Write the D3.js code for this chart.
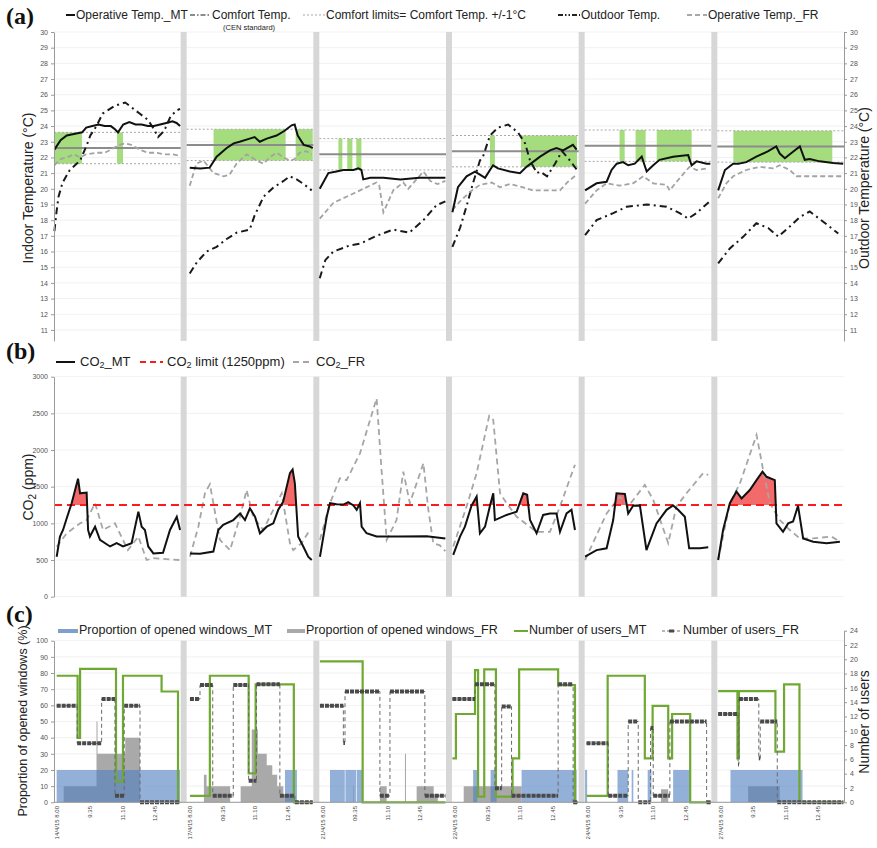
<!DOCTYPE html>
<html>
<head>
<meta charset="utf-8">
<script src="https://cdn.jsdelivr.net/npm/d3@7"></script>
<style>
  body { margin: 0; background: #fff; }
</style>
</head>
<body>
<div id="chart"></div>
<script>
// chart size
const width = 877;
const height = 848;

// ---- data (time = decimal hours of the day) ----
const days = ["14/4/15", "17/4/15", "21/4/15", "22/4/15", "24/4/15", "27/4/15"];
const timeTicks = [8.0, 9 + 35 / 60, 11 + 10 / 60, 12.75];
const timeTickLabels = [
    ["8.00", "9.35", "11.10", "12.45"],
    ["8.00", "09.35", "11.10", "12.45"],
    ["8.00", "09.35", "11.10", "12.45"],
    ["8.00", "09.35", "11.10", "12.45"],
    ["8.00", "9.35", "11.10", "12.45"],
    ["8.00", "9.35", "11.10", "12.45"]
];

// comfort temperature (CEN standard) per day, limits are +/-1
const comfortTemp = [22.6, 22.8, 22.2, 22.4, 22.75, 22.7];

// periods where operative temp. MT lies inside the comfort limits
const comfortPeriods = [
    [[7.85, 9.19], [10.9, 11.19]],
    [[9.14, 12.65], [13.14, 13.97]],
    [[8.76, 8.95], [9.19, 9.44], [9.63, 9.88]],
    [[9.68, 9.92], [11.19, 13.92]],
    [[9.53, 9.78], [10.31, 10.8], [11.34, 13.04]],
    [[8.61, 13.43]]
];

const tempMT = [
    [[7.85, 22.5], [8.15, 23.1], [8.45, 23.4], [8.8, 23.5], [9.2, 23.6], [9.4, 23.9], [9.7, 24.0], [10.0, 24.1], [10.3, 24.0], [10.6, 24.0], [10.8, 23.8], [10.95, 23.6], [11.2, 24.1], [11.5, 24.25], [11.8, 24.1], [12.1, 24.1], [12.4, 24.0], [12.7, 24.0], [13.0, 24.1], [13.3, 24.2], [13.6, 24.3], [13.8, 24.2], [13.97, 24.0]],
    [[7.98, 21.35], [8.5, 21.3], [8.95, 21.35], [9.29, 22.05], [9.78, 22.6], [10.12, 22.9], [10.41, 23.0], [10.9, 23.2], [11.14, 23.3], [11.39, 23.0], [11.73, 23.2], [12.21, 23.4], [12.6, 23.7], [12.94, 24.05], [13.09, 24.1], [13.24, 23.4], [13.53, 22.8], [13.82, 22.7], [13.97, 22.6]],
    [[7.85, 20.0], [8.27, 21.0], [8.66, 21.1], [9.0, 21.2], [9.49, 21.2], [9.73, 21.3], [9.88, 21.2], [9.97, 20.6], [10.31, 20.7], [10.95, 20.7], [11.78, 20.6], [12.7, 20.7], [13.97, 20.7]],
    [[7.85, 18.5], [8.12, 20.1], [8.54, 20.8], [8.95, 21.1], [9.19, 20.9], [9.44, 20.7], [9.68, 21.2], [9.83, 21.5], [10.07, 21.3], [10.65, 21.1], [11.14, 21.0], [11.46, 21.4], [12.12, 22.05], [12.6, 22.45], [12.92, 22.6], [13.24, 22.45], [13.72, 22.8], [13.9, 22.5]],
    [[7.85, 19.9], [8.41, 20.35], [8.9, 20.45], [9.14, 21.2], [9.39, 21.6], [9.7, 21.7], [9.95, 21.5], [10.27, 21.6], [10.61, 22.05], [10.85, 21.1], [11.17, 21.5], [11.48, 21.85], [12.14, 22.05], [12.87, 22.15], [13.04, 21.5], [13.28, 21.75], [13.77, 21.6], [13.95, 21.6]],
    [[7.87, 19.9], [8.2, 21.2], [8.6, 21.6], [8.85, 21.6], [9.24, 21.7], [9.73, 22.05], [10.31, 22.4], [10.7, 22.7], [10.87, 22.25], [11.12, 21.95], [11.36, 22.2], [11.85, 22.7], [12.09, 21.85], [12.33, 21.9], [12.82, 21.75], [13.47, 21.65], [13.96, 21.6]]
];

const tempFR = [
    [[7.85, 21.5], [8.15, 21.9], [8.45, 22.0], [8.8, 22.2], [9.1, 22.0], [9.4, 22.2], [9.9, 22.3], [10.3, 22.3], [10.6, 22.5], [11.0, 22.8], [11.3, 22.9], [11.6, 22.8], [12.0, 22.5], [12.4, 22.3], [12.8, 22.3], [13.2, 22.2], [13.6, 22.2], [13.97, 22.1]],
    [[7.98, 20.2], [8.3, 21.6], [8.65, 21.8], [9.14, 21.0], [9.63, 20.8], [9.92, 20.9], [10.26, 21.6], [10.75, 22.2], [11.24, 21.8], [11.58, 21.6], [11.87, 22.0], [12.21, 22.3], [12.55, 22.0], [12.85, 21.8], [13.1, 21.9], [13.33, 22.3], [13.67, 22.4], [13.92, 22.2]],
    [[7.85, 18.1], [8.51, 19.1], [9.49, 19.7], [10.61, 20.4], [10.75, 20.2], [10.95, 18.5], [11.43, 19.9], [11.92, 20.4], [12.16, 20.0], [12.9, 21.1], [13.24, 20.5], [13.58, 20.3], [13.97, 20.5]],
    [[7.85, 18.65], [8.22, 19.2], [8.7, 19.8], [9.19, 20.25], [9.76, 20.4], [10.17, 20.1], [10.65, 20.3], [11.14, 20.15], [11.78, 19.9], [13.09, 19.9], [13.48, 20.45], [13.9, 20.9]],
    [[7.85, 19.05], [8.41, 19.9], [8.9, 20.35], [9.53, 20.2], [10.19, 20.35], [10.68, 20.8], [11.17, 20.35], [11.82, 20.25], [11.97, 19.9], [12.31, 20.45], [12.8, 21.2], [12.94, 21.4], [13.28, 21.2], [13.84, 21.3]],
    [[7.87, 19.4], [8.27, 20.35], [8.6, 20.8], [9.24, 21.2], [9.9, 21.4], [10.56, 21.3], [10.87, 21.5], [11.36, 21.2], [11.68, 20.8], [12.5, 20.8], [13.97, 20.8]]
];

const tempOut = [
    [[7.85, 17.3], [7.95, 18.5], [8.05, 19.5], [8.25, 20.4], [8.6, 21.2], [9.1, 21.8], [9.4, 22.7], [9.6, 23.4], [9.9, 24.0], [10.2, 24.8], [10.8, 25.3], [11.3, 25.5], [11.7, 25.1], [12.0, 24.8], [12.4, 24.4], [12.7, 23.8], [12.9, 23.3], [13.2, 23.7], [13.5, 24.6], [13.8, 25.0], [13.97, 25.1]],
    [[7.98, 14.6], [8.32, 15.3], [8.8, 16.0], [9.29, 16.3], [9.78, 16.8], [10.26, 17.2], [10.9, 17.4], [11.14, 18.3], [11.58, 19.5], [12.07, 20.1], [12.55, 20.5], [12.85, 20.8], [13.19, 20.6], [13.53, 20.3], [13.92, 19.9]],
    [[7.85, 14.3], [8.12, 15.45], [8.51, 16.0], [9.34, 16.4], [9.83, 16.5], [10.61, 17.0], [11.43, 17.4], [12.21, 17.2], [12.9, 18.0], [13.53, 18.95], [13.97, 19.2]],
    [[7.85, 16.3], [8.22, 17.5], [8.54, 18.9], [8.85, 20.35], [9.19, 21.8], [9.34, 22.05], [9.68, 23.4], [10.07, 23.9], [10.56, 24.1], [11.04, 23.6], [11.39, 22.9], [11.63, 21.8], [11.97, 21.0], [12.12, 21.1], [12.46, 20.8], [12.85, 21.6], [13.19, 22.4], [13.58, 21.8], [13.92, 21.2]],
    [[7.85, 17.05], [8.41, 18.0], [9.22, 18.45], [9.87, 18.85], [10.85, 19.0], [11.82, 18.85], [12.46, 18.45], [12.87, 18.1], [13.28, 18.45], [13.92, 19.2]],
    [[7.87, 15.25], [8.44, 16.2], [9.1, 16.95], [9.73, 17.8], [10.31, 17.5], [10.8, 16.95], [11.36, 17.6], [11.85, 18.2], [12.33, 18.55], [12.99, 17.9], [13.72, 17.15]]
];

const co2Limit = 1250;

const co2MT = [
    [[7.96, 545], [8.12, 820], [8.27, 910], [8.45, 1070], [8.69, 1275], [9.0, 1610], [9.1, 1410], [9.42, 1420], [9.49, 910], [9.58, 820], [9.83, 955], [10.07, 775], [10.56, 685], [10.88, 730], [11.19, 685], [11.61, 730], [11.94, 1160], [12.1, 955], [12.26, 910], [12.42, 685], [12.67, 590], [13.14, 600], [13.48, 910], [13.81, 1090], [13.97, 910]],
    [[7.99, 590], [8.48, 585], [9.13, 615], [9.37, 910], [9.61, 980], [10.1, 1045], [10.43, 1135], [10.67, 1045], [10.91, 1205], [11.16, 1090], [11.4, 865], [11.73, 955], [12.05, 1000], [12.29, 1185], [12.53, 1295], [12.86, 1685], [12.99, 1735], [13.1, 1545], [13.26, 820], [13.51, 685], [13.75, 545], [13.92, 500]],
    [[7.86, 545], [8.19, 1090], [8.35, 1275], [8.67, 1262], [9.0, 1256], [9.24, 1290], [9.49, 1245], [9.65, 1185], [9.81, 1275], [9.89, 955], [10.13, 865], [10.62, 820], [11.76, 820], [13.06, 825], [13.97, 795]],
    [[7.89, 570], [8.22, 820], [8.46, 955], [8.78, 1240], [9.03, 1365], [9.19, 865], [9.44, 955], [9.68, 1240], [9.84, 1410], [9.92, 1045], [10.49, 1115], [10.98, 1160], [11.3, 1410], [11.49, 1390], [11.63, 1045], [11.95, 865], [12.27, 1115], [12.6, 1135], [12.92, 1135], [13.09, 885], [13.41, 1135], [13.65, 1185], [13.82, 910]],
    [[7.85, 545], [8.41, 635], [8.9, 660], [9.22, 1045], [9.38, 1410], [9.79, 1400], [9.95, 1135], [10.19, 1240], [10.52, 1245], [10.84, 635], [11.33, 1000], [11.82, 1185], [12.14, 1245], [12.38, 1185], [12.71, 1090], [12.92, 660], [13.44, 660], [13.85, 675]],
    [[7.87, 500], [8.11, 910], [8.44, 1275], [8.76, 1435], [9.01, 1340], [9.41, 1455], [9.74, 1590], [10.03, 1705], [10.23, 1635], [10.63, 1590], [10.71, 1000], [11.03, 885], [11.28, 1000], [11.52, 1025], [11.76, 1240], [12.01, 795], [12.5, 750], [13.15, 730], [13.8, 750]]
];

const co2FR = [
    [[7.96, 680], [8.45, 865], [9.1, 1000], [9.42, 1045], [9.83, 1275], [10.22, 910], [10.8, 1000], [11.43, 635], [11.94, 820], [12.34, 500], [12.67, 525], [13.97, 500]],
    [[7.99, 545], [8.4, 955], [8.72, 1410], [8.96, 1535], [9.13, 1275], [9.45, 775], [9.94, 635], [10.43, 1090], [10.75, 1455], [11.07, 1090], [11.56, 910], [12.21, 1275], [12.46, 1410], [12.86, 730], [13.02, 635], [13.43, 730], [13.83, 910]],
    [[7.86, 775], [8.35, 1275], [8.83, 1615], [9.16, 1590], [9.81, 1955], [10.62, 2705], [10.86, 1730], [11.11, 775], [11.59, 1045], [11.92, 1705], [12.24, 1275], [12.9, 1820], [13.14, 1185], [13.38, 730], [13.7, 700], [13.97, 620]],
    [[7.89, 685], [8.54, 1230], [9.03, 1685], [9.64, 2465], [9.84, 2410], [10.17, 1410], [10.49, 1275], [10.98, 1090], [11.95, 885], [12.6, 885], [13.09, 1230], [13.82, 1800]],
    [[7.85, 500], [8.9, 1135], [9.54, 1365], [9.95, 1230], [10.76, 1525], [11.17, 1320], [11.9, 730], [12.3, 1230], [12.79, 1410], [13.6, 1685], [13.85, 1660]],
    [[7.87, 500], [8.44, 1275], [8.93, 1545], [9.74, 2205], [10.06, 1730], [10.39, 1275], [10.87, 1045], [11.36, 910], [11.85, 795], [12.5, 795], [13.39, 820], [13.8, 750]]
];

// proportion of opened windows (%), step values
const windowsMT = [
    [[7.96, 20], [13.97, 20]],
    [[7.99, 0], [12.62, 20], [13.2, 0], [13.97, 0]],
    [[7.86, 0], [8.35, 20], [9.07, 0], [9.1, 20], [9.62, 0], [9.65, 20], [9.94, 0], [13.97, 0]],
    [[7.85, 0], [8.86, 20], [9.06, 0], [9.71, 20], [10.0, 0], [11.22, 20], [13.9, 0], [13.97, 0]],
    [[7.85, 20], [7.95, 0], [9.43, 20], [9.95, 0], [10.12, 20], [10.2, 0], [10.9, 20], [11.08, 0], [12.14, 20], [12.98, 0], [13.97, 0]],
    [[7.87, 0], [8.47, 20], [11.98, 0], [13.97, 0]]
];

const windowsFR = [
    [[7.96, 0], [8.3, 10], [9.9, 50], [9.95, 30], [11.3, 40], [12.02, 0], [13.97, 0]],
    [[7.99, 0], [8.67, 17], [8.8, 10], [9.95, 0], [10.46, 10], [11.0, 45], [11.3, 30], [11.73, 23], [12.0, 17], [12.24, 10], [12.54, 5], [13.04, 0], [13.97, 0]],
    [[7.86, 0], [9.49, 10], [9.52, 0], [10.78, 10], [11.11, 0], [12.0, 30], [12.05, 0], [12.57, 10], [13.4, 5], [13.6, 0], [13.97, 0]],
    [[7.85, 0], [8.4, 10], [11.22, 0], [13.97, 0]],
    [[7.85, 0], [11.55, 8], [11.9, 0], [13.97, 0]],
    [[7.87, 0], [9.33, 10], [10.87, 0], [13.97, 0]]
];

// number of users, step values
const usersMT = [
    [[7.96, 17.7], [8.98, 9.0], [9.1, 18.65], [10.85, 2.9], [11.19, 17.7], [13.07, 15.5], [13.87, 0], [13.97, 0]],
    [[7.99, 0.9], [8.96, 17.7], [10.85, 4.05], [11.19, 16.5], [13.05, 0], [13.97, 0]],
    [[7.86, 19.7], [9.94, 0], [13.97, 0]],
    [[7.85, 6.15], [8.02, 12.35], [8.95, 18.5], [9.1, 0.8], [9.4, 18.6], [9.97, 0.8], [10.78, 6.15], [11.1, 18.6], [13.0, 16.4], [13.82, 0], [13.97, 0]],
    [[7.92, 0.9], [8.95, 17.7], [10.76, 6.15], [11.14, 13.5], [11.9, 6.15], [12.09, 12.35], [12.97, 0], [13.97, 0]],
    [[7.87, 15.55], [8.81, 6.15], [8.88, 15.55], [10.66, 7.1], [11.08, 16.5], [11.83, 0], [13.97, 0]]
];

const usersFR = [
    [[7.96, 13.5], [8.96, 8.25], [10.15, 14.45], [10.8, 0.9], [11.25, 13.5], [12.02, 0], [13.97, 0]],
    [[7.99, 14.45], [8.48, 16.4], [9.1, 0.9], [10.1, 16.4], [10.85, 3.0], [11.23, 16.5], [12.37, 0.9], [13.1, 0], [13.97, 0]],
    [[7.86, 13.5], [9.0, 8.3], [9.08, 15.5], [10.78, 0.9], [11.27, 15.5], [12.97, 0.9], [13.97, 0.9]],
    [[7.85, 14.45], [8.95, 16.5], [9.92, 1.95], [10.25, 13.4], [10.73, 0.9], [13.0, 16.5], [13.73, 0], [13.97, 0]],
    [[7.92, 8.25], [8.98, 0.9], [9.95, 11.3], [10.44, 0], [11.04, 10.4], [11.17, 0.9], [11.98, 11.3], [13.77, 0], [13.97, 0]],
    [[7.87, 12.35], [8.84, 5.3], [8.88, 14.45], [9.85, 6.15], [9.92, 11.3], [10.75, 0], [13.97, 0]]
];

// ---- svg ----
const svg = d3.select("#chart")
    .append("svg")
    .attr("width", width)
    .attr("height", height)
    .style("font-family", "'Liberation Sans', Arial, sans-serif");

const xLeft = 54;
const xRight = 844;

// one band per day, gray separators in the gaps
const band = d3.scaleBand()
    .domain(days)
    .range([xLeft, xRight])
    .paddingInner(0.0452)
    .paddingOuter(0);
const gap = band.step() - band.bandwidth();

const xTime = d3.scaleLinear().domain([7.83, 14.0]).range([0, band.bandwidth()]);
const xOf = (i, h) => band(days[i]) + xTime(h);

// vertical scales
const yTemp = d3.scaleLinear().domain([10.3, 30]).range([340.9, 32]);
const yCO2 = d3.scaleLinear().domain([0, 3000]).range([596.7, 376.7]);
const yWin = d3.scaleLinear().domain([0, 100]).range([802.3, 640.7]);
const yUsers = d3.scaleLinear().domain([0, 24]).range([802.3, 630.7]);

// 轴样式
function styleAxis(g) {
    g.select(".domain").attr("stroke", "#9a9a9a");
    g.selectAll(".tick line").attr("stroke", "#9a9a9a");
    g.selectAll(".tick text")
        .attr("fill", "#555")
        .style("font-size", "7px")
        .style("font-family", "'Liberation Sans', Arial, sans-serif");
}

// grid lines + day separators
function drawFrame(y, ticks) {
    const [bottom, top] = y.range();
    const g = svg.append("g");
    g.selectAll("line")
        .data(ticks)
        .enter()
        .append("line")
        .attr("x1", xLeft)
        .attr("x2", xRight)
        .attr("y1", d => y(d))
        .attr("y2", d => y(d))
        .attr("stroke", "#eeeeee")
        .attr("stroke-width", 0.8);
    g.selectAll("rect")
        .data(days.slice(1))
        .enter()
        .append("rect")
        .attr("x", d => band(d) - gap)
        .attr("width", gap)
        .attr("y", top)
        .attr("height", bottom - top)
        .attr("fill", "#d7d7d7");
}

function axisTitle(text, x, y, size) {
    return svg.append("text")
        .attr("transform", `translate(${x},${y}) rotate(-90)`)
        .attr("text-anchor", "middle")
        .style("font-size", size + "px")
        .attr("fill", "#222")
        .text(text);
}

function panelLabel(text, x, y) {
    svg.append("text")
        .attr("x", x)
        .attr("y", y)
        .style("font-family", "'Liberation Serif', 'Times New Roman', serif")
        .style("font-weight", "bold")
        .style("font-size", "24px")
        .attr("fill", "#111")
        .text(text);
}

function legendLine(x1, x2, y, stroke, width, dash) {
    svg.append("line")
        .attr("x1", x1).attr("x2", x2)
        .attr("y1", y).attr("y2", y)
        .attr("stroke", stroke)
        .attr("stroke-width", width)
        .attr("stroke-dasharray", dash || null);
}

function legendText(x, y, size, text) {
    return svg.append("text")
        .attr("x", x)
        .attr("y", y)
        .style("font-size", size + "px")
        .attr("fill", "#222")
        .text(text);
}

const plain = d3.format("d");

// ================= (a) temperatures =================
const tempTicks = d3.range(11, 31);
drawFrame(yTemp, tempTicks);

const gA = svg.append("g");
days.forEach((day, i) => {
    const x0 = band(day);
    const x1 = x0 + band.bandwidth();
    const ct = comfortTemp[i];

    // comfort periods
    gA.append("g")
        .selectAll("rect")
        .data(comfortPeriods[i])
        .enter()
        .append("rect")
        .attr("x", d => xOf(i, d[0]))
        .attr("width", d => xOf(i, d[1]) - xOf(i, d[0]))
        .attr("y", yTemp(ct + 1))
        .attr("height", yTemp(ct - 1) - yTemp(ct + 1))
        .attr("fill", "#9bd870")
        .attr("opacity", 0.9);

    // comfort limits
    [ct + 1, ct - 1].forEach(v => {
        gA.append("line")
            .attr("x1", x0).attr("x2", x1)
            .attr("y1", yTemp(v)).attr("y2", yTemp(v))
            .attr("stroke", "#a8a8a8")
            .attr("stroke-width", 1)
            .attr("stroke-dasharray", "2,2");
    });

    // comfort temp.
    gA.append("line")
        .attr("x1", x0).attr("x2", x1)
        .attr("y1", yTemp(ct)).attr("y2", yTemp(ct))
        .attr("stroke", "#8c8c8c")
        .attr("stroke-width", 2);

    const line = d3.line()
        .x(d => xOf(i, d[0]))
        .y(d => yTemp(d[1]));

    gA.append("path")
        .attr("d", line(tempOut[i]))
        .attr("fill", "none")
        .attr("stroke", "#1a1a1a")
        .attr("stroke-width", 2)
        .attr("stroke-dasharray", "7,4,2,4");

    gA.append("path")
        .attr("d", line(tempFR[i]))
        .attr("fill", "none")
        .attr("stroke", "#a3a3a3")
        .attr("stroke-width", 1.8)
        .attr("stroke-dasharray", "5,3");

    gA.append("path")
        .attr("d", line(tempMT[i]))
        .attr("fill", "none")
        .attr("stroke", "#111")
        .attr("stroke-width", 2);
});

svg.append("g")
    .attr("transform", `translate(${xLeft},0)`)
    .call(d3.axisLeft(yTemp).tickValues(tempTicks).tickFormat(plain).tickSize(3).tickSizeOuter(0))
    .call(styleAxis);
svg.append("g")
    .attr("transform", `translate(${xRight},0)`)
    .call(d3.axisRight(yTemp).tickValues(tempTicks).tickFormat(plain).tickSize(3).tickSizeOuter(0))
    .call(styleAxis);

axisTitle("Indoor Temperature (°C)", 33, 188, 14);
axisTitle("Outdoor Temperature (°C)", 869, 188, 14);

panelLabel("(a)", 6, 24);
legendLine(66, 75, 15, "#111", 2);
legendText(76, 19, 12, "Operative Temp._MT");
legendLine(190, 211, 15, "#8c8c8c", 1.8, "5,2,1.5,2");
legendText(212, 19, 12, "Comfort Temp.");
legendText(223, 30, 7.5, "(CEN standard)");
legendLine(303, 325, 15, "#a8a8a8", 1, "2,2");
legendText(326, 19, 12, "Comfort limits= Comfort Temp. +/-1°C");
legendLine(558, 580, 15, "#222", 1.8, "5,2,1.5,2,1.5,2");
legendText(581, 19, 12, "Outdoor Temp.");
legendLine(687, 707, 15, "#8c8c8c", 1.5, "5,3");
legendText(708, 19, 12, "Operative Temp._FR");

// ================= (b) CO2 =================
const co2Ticks = d3.range(0, 3001, 500);
drawFrame(yCO2, co2Ticks);

const defs = svg.append("defs");
defs.append("clipPath")
    .attr("id", "above-limit")
    .append("rect")
    .attr("x", xLeft)
    .attr("width", xRight - xLeft)
    .attr("y", yCO2.range()[1])
    .attr("height", yCO2(co2Limit) - yCO2.range()[1]);

const gB = svg.append("g");
days.forEach((day, i) => {
    const line = d3.line()
        .x(d => xOf(i, d[0]))
        .y(d => yCO2(d[1]));
    const overArea = d3.area()
        .x(d => xOf(i, d[0]))
        .y0(yCO2(co2Limit))
        .y1(d => yCO2(d[1]));

    gB.append("path")
        .attr("d", overArea(co2MT[i]))
        .attr("clip-path", "url(#above-limit)")
        .attr("fill", "#f36a6a");

    gB.append("path")
        .attr("d", line(co2FR[i]))
        .attr("fill", "none")
        .attr("stroke", "#a6a6a6")
        .attr("stroke-width", 1.8)
        .attr("stroke-dasharray", "6,4");
});

// CO2 limit
gB.append("line")
    .attr("x1", xLeft)
    .attr("x2", xRight)
    .attr("y1", yCO2(co2Limit))
    .attr("y2", yCO2(co2Limit))
    .attr("stroke", "#ff1a1a")
    .attr("stroke-width", 2)
    .attr("stroke-dasharray", "8,5");

days.forEach((day, i) => {
    const line = d3.line()
        .x(d => xOf(i, d[0]))
        .y(d => yCO2(d[1]));
    gB.append("path")
        .attr("d", line(co2MT[i]))
        .attr("fill", "none")
        .attr("stroke", "#111")
        .attr("stroke-width", 2);
});

svg.append("g")
    .attr("transform", `translate(${xLeft},0)`)
    .call(d3.axisLeft(yCO2).tickValues(co2Ticks).tickFormat(plain).tickSize(3).tickSizeOuter(0))
    .call(styleAxis);

const co2Title = axisTitle("", 33, 487, 14);
co2Title.append("tspan").text("CO");
co2Title.append("tspan").attr("dy", 3).style("font-size", "10px").text("2");
co2Title.append("tspan").attr("dy", -3).text(" (ppm)");

panelLabel("(b)", 6, 359);
legendLine(56, 75, 362, "#111", 2);
const lb1 = legendText(80, 366, 13, "CO");
lb1.append("tspan").attr("dy", 2).style("font-size", "9px").text("2");
lb1.append("tspan").attr("dy", -2).text("_MT");
legendLine(140, 163, 362, "#ff1a1a", 2, "6,4");
const lb2 = legendText(167, 366, 13, "CO");
lb2.append("tspan").attr("dy", 2).style("font-size", "9px").text("2");
lb2.append("tspan").attr("dy", -2).text(" limit (1250ppm)");
legendLine(293, 312, 362, "#a6a6a6", 1.8, "6,4");
const lb3 = legendText(316, 366, 13, "CO");
lb3.append("tspan").attr("dy", 2).style("font-size", "9px").text("2");
lb3.append("tspan").attr("dy", -2).text("_FR");

// ================= (c) windows and users =================
const winTicks = d3.range(0, 101, 10);
drawFrame(yWin, winTicks);

const gC = svg.append("g");
days.forEach((day, i) => {
    const area = d3.area()
        .curve(d3.curveStepAfter)
        .x(d => xOf(i, d[0]))
        .y0(yWin(0))
        .y1(d => yWin(d[1]));

    gC.append("path")
        .attr("d", area(windowsFR[i]))
        .attr("fill", "#a9a9a9");

    gC.append("path")
        .attr("d", area(windowsMT[i]))
        .attr("fill", "#4f7fc0")
        .attr("fill-opacity", 0.62);
});

days.forEach((day, i) => {
    const step = d3.line()
        .curve(d3.curveStepAfter)
        .x(d => xOf(i, d[0]))
        .y(d => yUsers(d[1]));

    gC.append("path")
        .attr("d", step(usersMT[i]))
        .attr("fill", "none")
        .attr("stroke", "#6fa832")
        .attr("stroke-width", 2.2);

    // FR users: thin dashed risers, thick marker-like levels
    gC.append("path")
        .attr("d", step(usersFR[i]))
        .attr("fill", "none")
        .attr("stroke", "#6a6a6a")
        .attr("stroke-width", 1)
        .attr("stroke-dasharray", "4,3");

    const levels = d3.pairs(usersFR[i]);
    gC.append("g")
        .selectAll("line")
        .data(levels)
        .enter()
        .append("line")
        .attr("x1", d => xOf(i, d[0][0]))
        .attr("x2", d => xOf(i, d[1][0]))
        .attr("y1", d => yUsers(d[0][1]))
        .attr("y2", d => yUsers(d[0][1]))
        .attr("stroke", "#4a4a4a")
        .attr("stroke-width", 4)
        .attr("stroke-dasharray", "4,1");
});

// bottom axis line + rotated time labels
svg.append("line")
    .attr("x1", xLeft)
    .attr("x2", xRight)
    .attr("y1", yWin(0))
    .attr("y2", yWin(0))
    .attr("stroke", "#9a9a9a");

days.forEach((day, i) => {
    svg.append("g")
        .selectAll("text")
        .data(timeTicks)
        .enter()
        .append("text")
        .attr("transform", d => `translate(${xOf(i, d) + 2},806) rotate(-90)`)
        .attr("text-anchor", "end")
        .style("font-size", "6px")
        .attr("fill", "#444")
        .text((d, k) => k === 0 ? `${day} ${timeTickLabels[i][0]}` : timeTickLabels[i][k]);
});

svg.append("g")
    .attr("transform", `translate(${xLeft},0)`)
    .call(d3.axisLeft(yWin).tickValues(winTicks).tickFormat(plain).tickSize(3).tickSizeOuter(0))
    .call(styleAxis);
svg.append("g")
    .attr("transform", `translate(${xRight},0)`)
    .call(d3.axisRight(yUsers).tickValues(d3.range(0, 25, 2)).tickFormat(plain).tickSize(3).tickSizeOuter(0))
    .call(styleAxis);

axisTitle("Proportion of opened windows (%)", 27, 721, 12.5);
axisTitle("Number of users", 869, 722, 14);

panelLabel("(c)", 6, 622);
svg.append("rect")
    .attr("x", 58).attr("y", 629)
    .attr("width", 20).attr("height", 4)
    .attr("fill", "#7f9fcf");
legendText(79, 634, 12.5, "Proportion of opened windows_MT");
svg.append("rect")
    .attr("x", 287).attr("y", 629)
    .attr("width", 18).attr("height", 4)
    .attr("fill", "#a9a9a9");
legendText(306, 634, 12.5, "Proportion of opened windows_FR");
legendLine(514, 528, 631, "#6fa832", 2);
legendText(529, 634, 12.5, "Number of users_MT");
legendLine(662, 681, 631, "#6a6a6a", 1, "3,2");
svg.append("rect")
    .attr("x", 669).attr("y", 629.5)
    .attr("width", 5).attr("height", 3)
    .attr("fill", "#4a4a4a");
legendText(683, 634, 12.5, "Number of users_FR");
</script>
</body>
</html>
